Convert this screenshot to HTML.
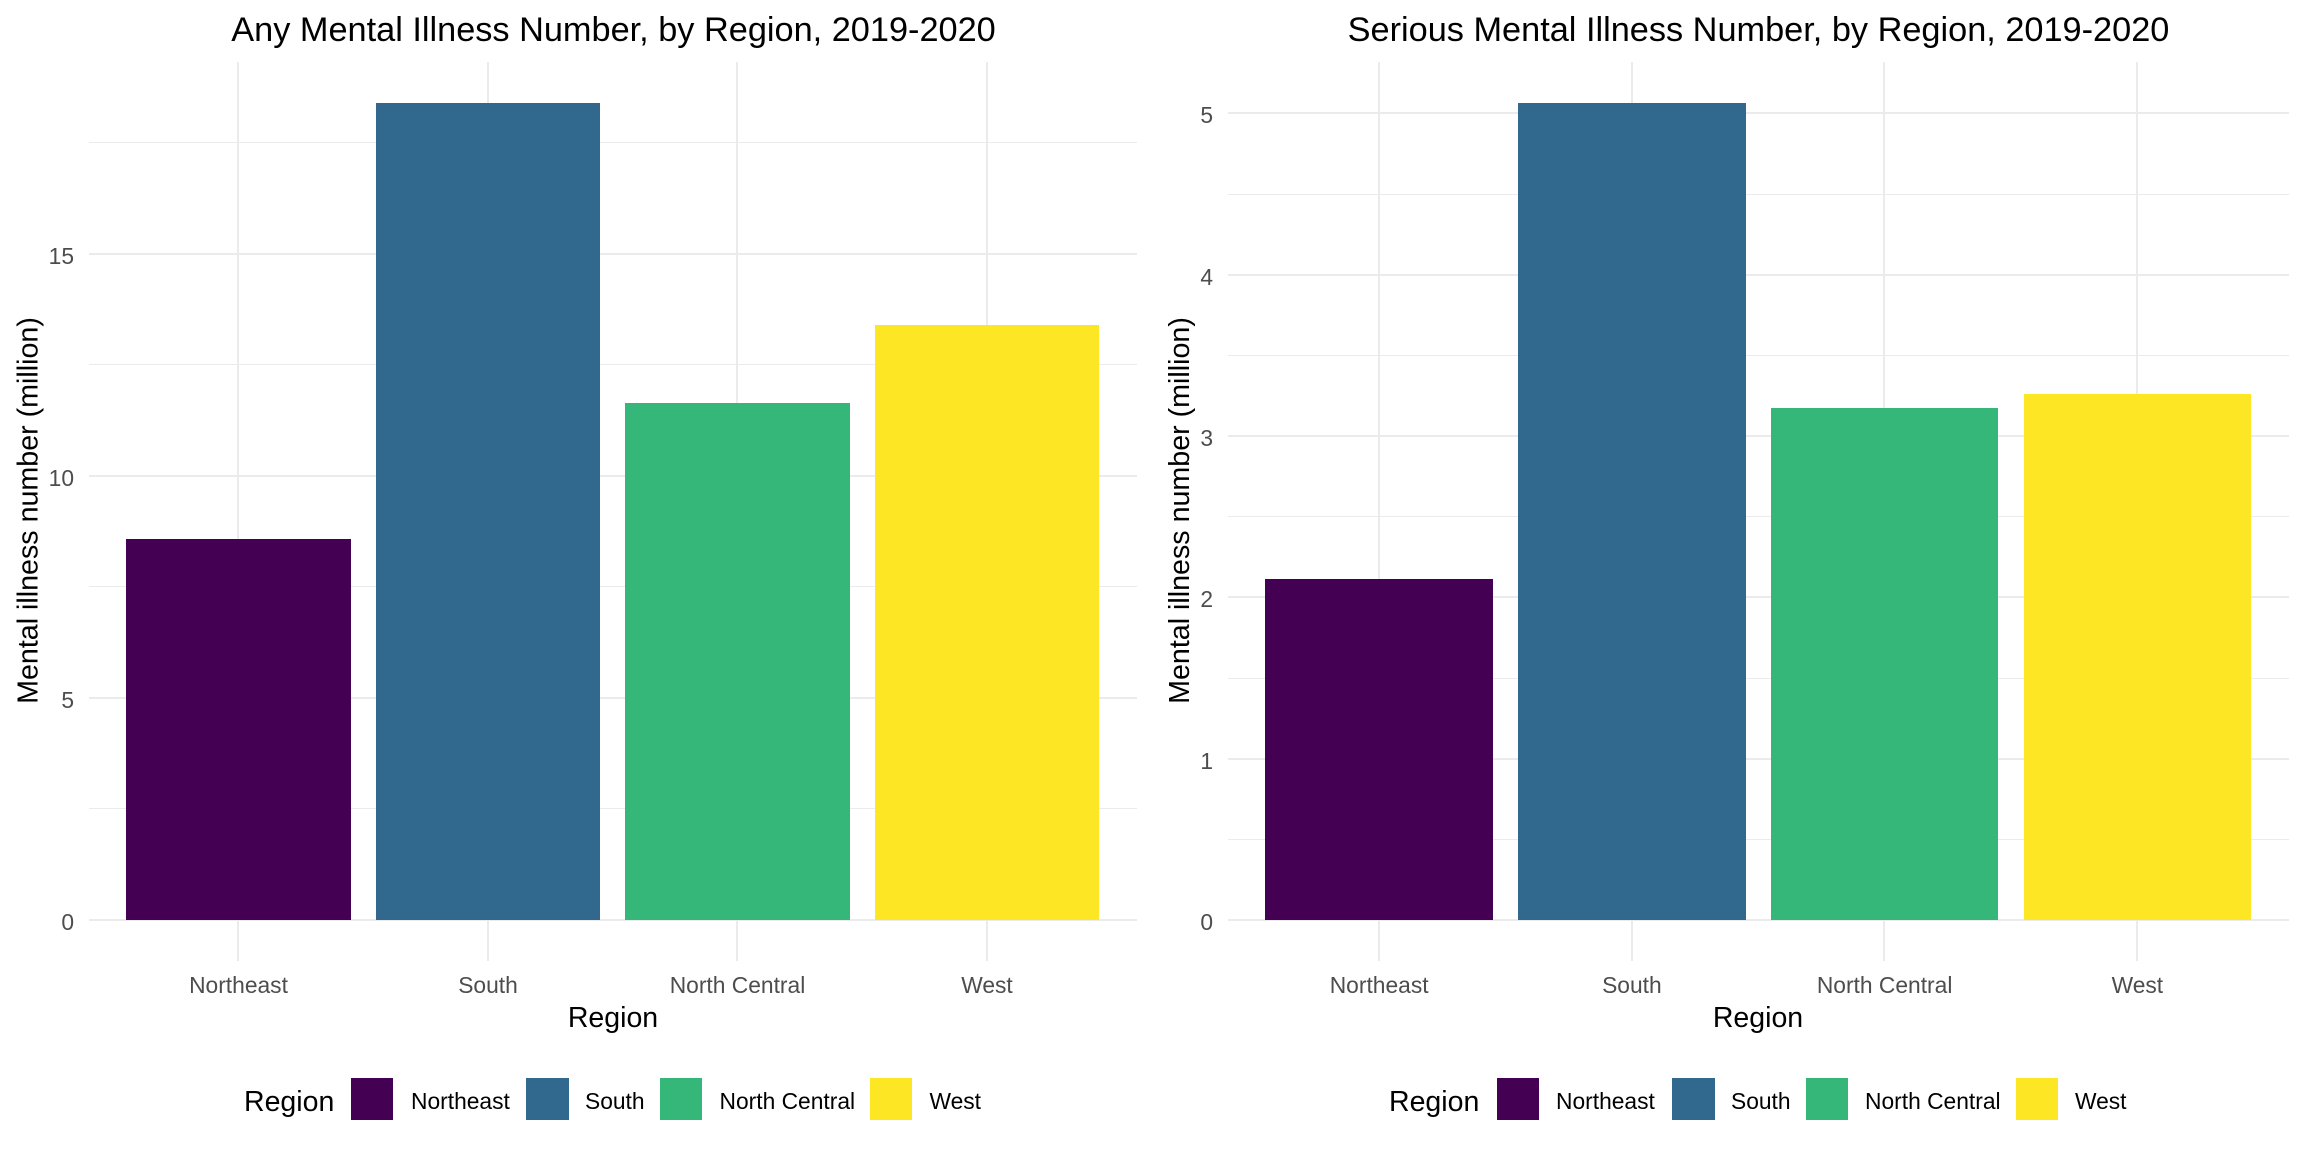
<!DOCTYPE html>
<html lang="en">
<head>
<meta charset="utf-8">
<title>Mental Illness Number by Region, 2019-2020</title>
<style>
html,body{margin:0;padding:0;background:#fff;width:2304px;height:1152px;overflow:hidden}
svg{display:block;font-family:"Liberation Sans",Arial,sans-serif}
.plot-title{font-size:34.3px;fill:#000;text-anchor:middle}
.axis-title{font-size:28.5px;fill:#000;text-anchor:middle}
.y-title{font-size:28.65px}
.legend-title{font-size:28.5px;fill:#000}
.legend-label{font-size:22.8px;fill:#000}
.tick-label{font-size:22.8px;fill:#4d4d4d}
</style>
</head>
<body>
<svg id="chart" xmlns="http://www.w3.org/2000/svg" width="2304" height="1152" viewBox="0 0 2304 1152">
  <rect x="0" y="0" width="2304" height="1152" fill="#fff"/>

  <g id="panel-left">
    <g id="plot-left"></g>
    <text class="plot-title" x="613.5" y="41">Any Mental Illness Number, by Region, 2019-2020</text>
    <text class="axis-title y-title" transform="translate(37.5 510.5) rotate(-90)">Mental illness number (million)</text>
    <text class="axis-title" x="613" y="1027">Region</text>
  </g>

  <g id="panel-right">
    <g id="plot-right"></g>
    <text class="plot-title" x="1758.5" y="41">Serious Mental Illness Number, by Region, 2019-2020</text>
    <text class="axis-title y-title" transform="translate(1189 510.5) rotate(-90)">Mental illness number (million)</text>
    <text class="axis-title" x="1758" y="1027">Region</text>
  </g>

  <g>
    <text class="legend-title" x="244" y="1111">Region</text>
    <rect x="351" y="1078" width="42" height="42" fill="#440154"/>
    <text class="legend-label" x="411" y="1109">Northeast</text>
    <rect x="526" y="1078" width="43" height="42" fill="#31688e"/>
    <text class="legend-label" x="585" y="1109">South</text>
    <rect x="660" y="1078" width="42" height="42" fill="#35b779"/>
    <text class="legend-label" x="719.5" y="1109">North Central</text>
    <rect x="870" y="1078" width="42" height="42" fill="#fde725"/>
    <text class="legend-label" x="929.5" y="1109">West</text>
  </g>

  <g transform="translate(1146 0)">
    <text class="legend-title" x="243" y="1111">Region</text>
    <rect x="351" y="1078" width="42" height="42" fill="#440154"/>
    <text class="legend-label" x="410" y="1109">Northeast</text>
    <rect x="526" y="1078" width="43" height="42" fill="#31688e"/>
    <text class="legend-label" x="585" y="1109">South</text>
    <rect x="660" y="1078" width="42" height="42" fill="#35b779"/>
    <text class="legend-label" x="719" y="1109">North Central</text>
    <rect x="870" y="1078" width="42" height="42" fill="#fde725"/>
    <text class="legend-label" x="929" y="1109">West</text>
  </g>
</svg>

<script>
const categories = ["Northeast", "South", "North Central", "West"];
const anyValues = [8.58, 18.39, 11.64, 13.39];
const seriousValues = [2.114, 5.065, 3.174, 3.261];
const anyMajorTicks = [0, 5, 10, 15];
const anyMinorTicks = [2.5, 7.5, 12.5, 17.5];
const seriousMajorTicks = [0, 1, 2, 3, 4, 5];
const seriousMinorTicks = [0.5, 1.5, 2.5, 3.5, 4.5];
const anyDomain = [-0.92, 19.31];
const seriousDomain = [-0.2533, 5.318];

const NS = "http://www.w3.org/2000/svg";
const GRID = "#ebebeb";
const PANEL_TOP = 62.15;
const PANEL_BOTTOM = 960.85;
const BAR_FILLS = ["#440154", "#31688e", "#35b779", "#fde725"];

function make(tag, parent, attrs, text) {
  const el = document.createElementNS(NS, tag);
  for (const k in attrs) el.setAttribute(k, attrs[k]);
  if (text !== undefined) el.textContent = text;
  parent.appendChild(el);
  return el;
}

function drawPanel(rootId, prefix, left, right, domain, values, majors, minors) {
  const root = document.getElementById(rootId);
  const unit = (right - left) / (categories.length - 1 + 1.2);
  const xCenter = function (i) { return left + (i + 0.6) * unit; };
  const yScale = function (v) {
    return PANEL_BOTTOM - (v - domain[0]) / (domain[1] - domain[0]) * (PANEL_BOTTOM - PANEL_TOP);
  };
  const xLeft = Math.round(left);
  const xRight = Math.round(right);

  minors.forEach(function (v) {
    const y = Math.floor(yScale(v)) + 0.5;
    const line = make("line", root, { x1: xLeft, x2: xRight, y1: y, y2: y, stroke: GRID, "stroke-width": 1, "shape-rendering": "crispEdges" });
    
    
  });

  majors.forEach(function (v) {
    const y = Math.round(yScale(v));
    const line = make("line", root, { x1: xLeft, x2: xRight, y1: y, y2: y, stroke: GRID, "stroke-width": 2, "shape-rendering": "crispEdges" });
    
    
    const label = make("text", root, { x: xLeft - 15, y: y + 10, "text-anchor": "end", class: "tick-label" }, String(v));
    
    
  });

  categories.forEach(function (c, i) {
    const x = Math.round(xCenter(i) - 0.2);
    const line = make("line", root, { x1: x, x2: x, y1: Math.round(PANEL_TOP), y2: Math.round(PANEL_BOTTOM), stroke: GRID, "stroke-width": 2, "shape-rendering": "crispEdges" });
    
    
    const label = make("text", root, { x: xCenter(i), y: 993, "text-anchor": "middle", class: "tick-label" }, c);
    
    
  });

  categories.forEach(function (c, i) {
    const x0 = Math.round(xCenter(i) - 0.45 * unit);
    const x1 = Math.round(xCenter(i) + 0.45 * unit);
    const yTop = Math.round(yScale(values[i]));
    const yBase = Math.round(yScale(0));
    const bar = make("rect", root, { x: x0, y: yTop, width: x1 - x0, height: yBase - yTop, fill: BAR_FILLS[i], "shape-rendering": "crispEdges" });
    
    
  });
}

drawPanel("plot-left", "any", 88.8, 1136.7, anyDomain, anyValues, anyMajorTicks, anyMinorTicks);
drawPanel("plot-right", "serious", 1227.5, 2289, seriousDomain, seriousValues, seriousMajorTicks, seriousMinorTicks);
</script>
</body>
</html>
